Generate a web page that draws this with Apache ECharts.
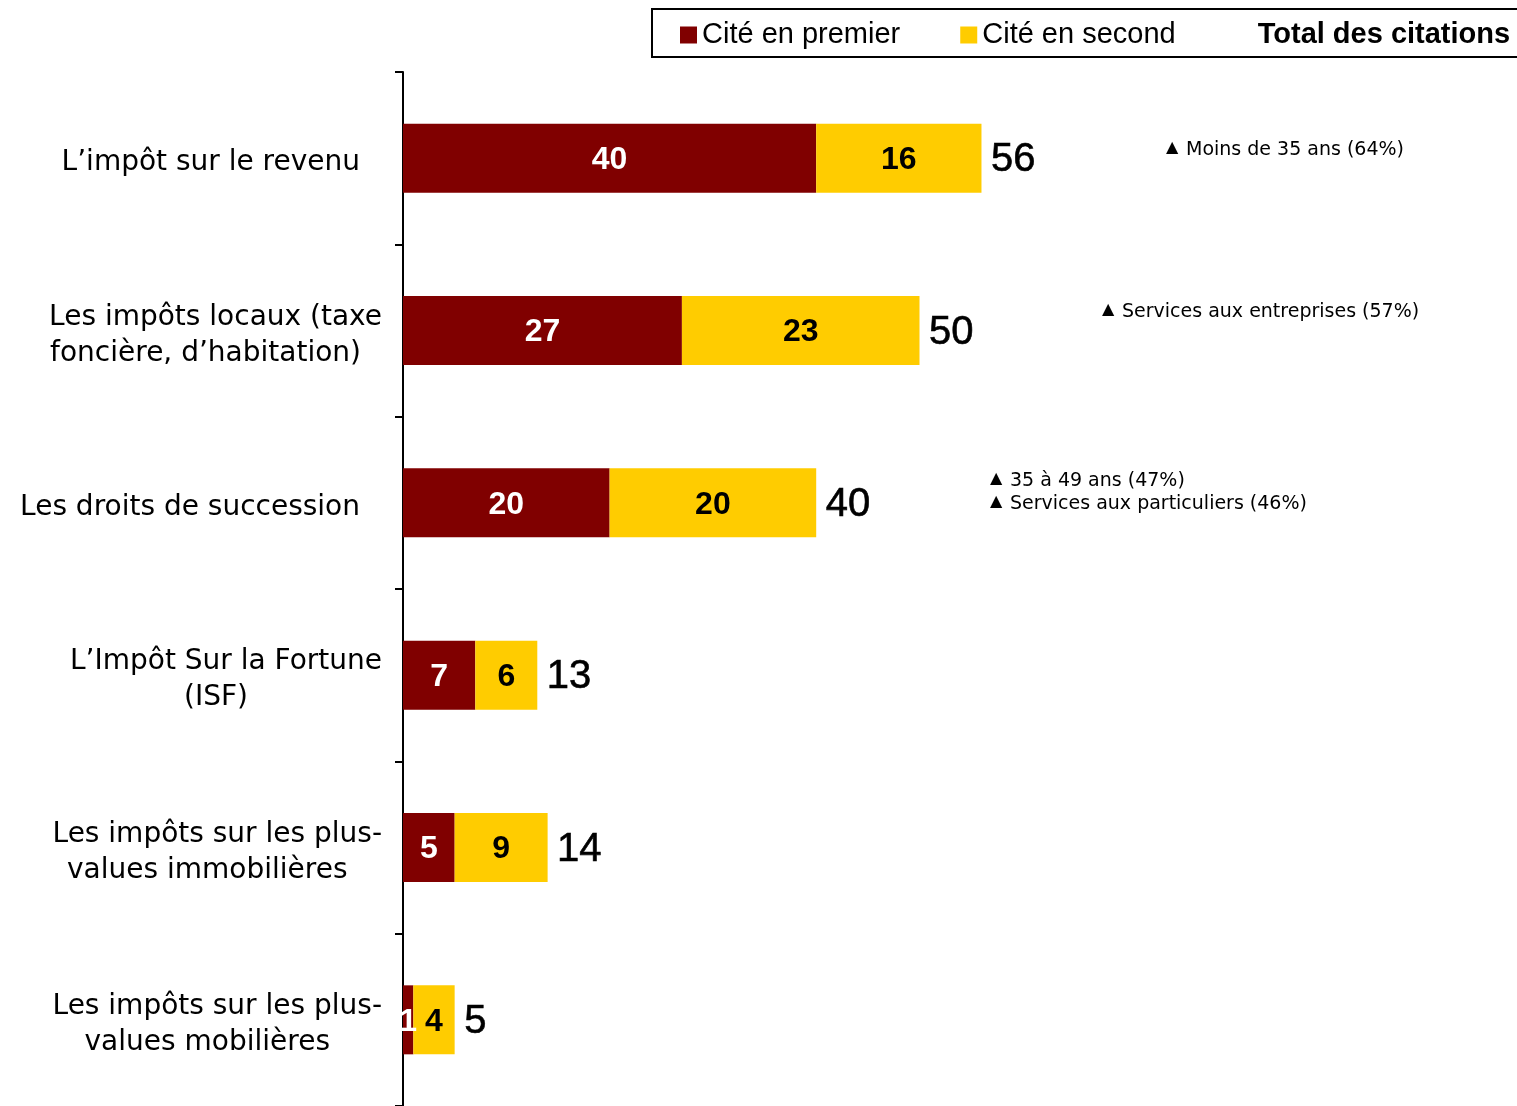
<!DOCTYPE html>
<html><head><meta charset="utf-8">
<script src="https://cdn.jsdelivr.net/npm/echarts@6/dist/echarts.min.js"></script>
<style>html,body{margin:0;padding:0;background:#fff}#c{width:1517px;height:1106px}</style>
</head><body><div id="c"></div>
<script>
const categories = [
  "L’impôt sur le revenu",
  "Les impôts locaux (taxe\nfoncière, d’habitation)",
  "Les droits de succession",
  "L’Impôt Sur la Fortune\n(ISF)",
  "Les impôts sur les plus-\nvalues immobilières",
  "Les impôts sur les plus-\nvalues mobilières"
];
const citeEnPremier = [40, 27, 20, 7, 5, 1];
const citeEnSecond = [16, 23, 20, 6, 9, 4];
const totalCitations = [56, 50, 40, 13, 14, 5];
const seriesNames = ["Cité en premier", "Cité en second", "Total des citations"];
const annotationTexts = [
  "Moins de 35 ans (64%)",
  "Services aux entreprises (57%)",
  "35 à 49 ans (47%)",
  "Services aux particuliers (46%)"
];
// layout of the annotations (pixel positions)
const annotationLayout = [
  {x: 1167, y: 150},
  {x: 1103, y: 312},
  {x: 991, y: 481},
  {x: 991, y: 504}
];

const chart = echarts.init(document.getElementById('c'), null, {renderer: 'canvas'});

const graphics = [{
  type: 'rect', shape: {x: 652, y: 9, width: 920, height: 48},
  style: {fill: 'none', stroke: '#000', lineWidth: 2}, silent: true
}];
annotationTexts.forEach((t, i) => {
  const p = annotationLayout[i];
  graphics.push({type: 'text', x: p.x - 1, y: p.y - 2, silent: true,
    style: {text: '▲', fontFamily: 'DejaVu Sans', fontSize: 16, fill: '#000', verticalAlign: 'middle', align: 'left'}});
  graphics.push({type: 'text', x: p.x + 19, y: p.y, silent: true,
    style: {text: t, fontFamily: 'DejaVu Sans', fontSize: 19, fill: '#000', verticalAlign: 'middle', align: 'left'}});
});

const labelFont = {fontFamily: 'DejaVu Sans', fontSize: 28, lineHeight: 36, color: '#000'};

const option = {
  animation: false,
  backgroundColor: '#fff',
  legend: {
    left: 680, top: 20, padding: 0, itemGap: 60, itemWidth: 17, itemHeight: 17, icon: 'rect',
    selectedMode: false,
    textStyle: {fontFamily: 'Liberation Sans', fontSize: 29, color: '#000', lineHeight: 30},
    data: [
      {name: seriesNames[0]},
      {name: seriesNames[1]},
      {name: seriesNames[2], textStyle: {fontWeight: 'bold'}}
    ]
  },
  grid: {left: 403, top: 72, right: 81, bottom: 0, containLabel: false, outerBoundsMode: 'none'},
  xAxis: {type: 'value', min: 0, max: 100, show: false},
  yAxis: {
    type: 'category', inverse: true, data: categories,
    axisLine: {show: true, lineStyle: {color: '#000', width: 2}},
    axisTick: {show: true, inside: false, length: 8, lineStyle: {color: '#000', width: 2}},
    splitLine: {show: false},
    axisLabel: Object.assign({}, labelFont, {
      margin: 21, align: 'right', padding: [10, 0, 0, 0],
      formatter: function (v) {
        const lines = v.split('\n');
        if (lines.length === 1) return '{s|' + v + '}';
        return '{a|' + lines[0] + '}\n{b|' + lines[1] + '}';
      },
      rich: {
        s: Object.assign({}, labelFont, {padding: [0, 22, 0, 0]}),
        a: Object.assign({}, labelFont, {align: 'center'}),
        b: Object.assign({}, labelFont, {align: 'center', padding: [0, 20, 0, 0]})
      }
    })
  },
  series: [
    {name: seriesNames[0], type: 'bar', stack: 't', data: citeEnPremier, barWidth: 69,
     itemStyle: {color: '#800000'},
     label: {show: true, position: 'inside', offset: [0, 2], color: '#fff', fontFamily: 'Liberation Sans', fontSize: 32, fontWeight: 'bold'}},
    {name: seriesNames[1], type: 'bar', stack: 't', data: citeEnSecond, barWidth: 69,
     itemStyle: {color: '#FFCC00'},
     label: {show: true, position: 'inside', offset: [0, 2], color: '#000', fontFamily: 'Liberation Sans', fontSize: 32, fontWeight: 'bold'}},
    {name: seriesNames[2], type: 'scatter', data: totalCitations.map((v, i) => [v, i]), symbolSize: 1,
     itemStyle: {color: 'transparent', opacity: 1}, silent: true,
     label: {show: true, position: 'right', distance: 9, offset: [0, 2], opacity: 1,
       formatter: p => '{t|' + p.value[0] + '}',
       rich: {t: {color: '#000', opacity: 1, fontFamily: 'Liberation Sans', fontSize: 40, fontWeight: 'normal', textBorderColor: '#000', textBorderWidth: 0.6}}}}
  ],
  graphic: graphics
};
chart.setOption(option);
</script></body></html>
